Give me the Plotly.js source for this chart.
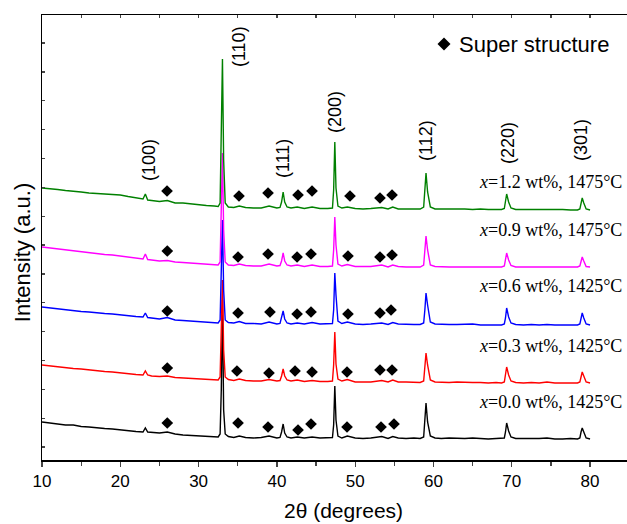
<!DOCTYPE html>
<html>
<head>
<meta charset="utf-8">
<script src="https://cdn.plot.ly/plotly-3.0.1.min.js"></script>
<style>body{margin:0;background:#fff}</style>
</head>
<body>
<div id="chart" style="width:627px;height:524px"></div>
<script>
// 2θ grid (degrees)
const twoTheta = [10,11,12,13,14,15,16,17,18,19,20,21,22,
  22.9,23.2,23.5,
  24,25,26,27,28,29,30,31,32,32.5,
  32.75,32.9,33.05,33.2,33.4,
  33.8,34.5,35.2,36,37,38,39,40,40.4,
  40.6,40.8,41,41.3,
  41.8,42.6,43.5,44.5,45.5,46.5,47.1,
  47.25,47.4,47.55,47.8,
  48.3,49,50,51,52,53.4,54.2,54.8,55.5,56.5,57.5,58.3,58.75,
  58.9,59.05,59.25,59.6,
  60.2,61,62,63,64,65,66,67,68,68.7,69.05,
  69.2,69.35,69.6,69.9,
  70.5,71.5,72.5,73.5,74.5,75.5,76.5,77.5,78.4,78.7,
  78.85,79.0,79.2,79.5,80];

// Intensities (a.u., stacked)
const int00 = [38,37,36.5,35,35,33.5,33,32,31.5,31,30,29.5,28.5,
  28,32,28,
  27.5,27,28,26,25,24.5,24,23.5,23,23,
  26,70,160,50,26,
  23.5,22.5,24,22.5,22,22.5,24,22,22.5,
  28,36,27,23,
  22,23,22,23,22,22,22.5,
  35,74,40,24,
  22,24,22,21.5,22,23.5,21.5,23.5,22,21.5,22,21.5,23,
  40,57,38,24,
  22,21.5,22,21.5,21.5,22,21.5,21,21.5,21.5,22,
  28,37,29,23,
  21.5,21.5,21,21.5,22,21,21,21.5,21,22,
  28,32,28,22,21];
const int03 = [95,94,93.5,92,91.5,91,90,89.5,88.5,88,87,86.5,85.5,
  85,89,85,
  84,83.5,84,82.5,82,81.5,81,80.5,80,80,
  83,125,180,110,83,
  80.5,79.5,81,79.5,79,79,80.5,79,79.5,
  84,91,84,80,
  79,80,78.5,79.5,78.5,78.5,79,
  95,128,96,81,
  79,80.5,78,78,78,79.5,78,80,78,78,78,77.5,79,
  95,107,95,80,
  78,77.5,77.5,78,77.5,77.5,77.5,77,77.5,77,78,
  84,93,85,79,
  77.5,77,77.5,77,78,77,77,77,77,78,
  83,88,84,78,77];
const int06 = [153,152,151,150,149.5,148.5,148,147,146.5,146,145,144,143.5,
  143,147,142.5,
  142,141,142.5,140,139.5,139,138,138,137.5,137,
  140,190,240,170,140,
  137.5,137,138.5,136.5,136.5,136,138,136,136.5,
  142,149,141,137,
  136,137,136,137.5,136,136,136.5,
  150,187,165,139,
  136.5,138,136,135.5,136,137,135.5,137.5,136,135.5,135.5,135.5,137,
  150,167,155,138,
  136,135.5,135.5,135.5,135.5,136,135,135,135.5,135,136,
  142,152,143,137,
  135.5,135,135.5,135,135.5,135,135,135,135,136,
  141,147,142,136,135];
const int09 = [213,212,211,210,209,208,207,206,205.5,205,204,203,202,
  201,206,200.5,
  200,199,199.5,198,197.5,197,196.5,196,195.5,195,
  198,250,307,230,198,
  195,194.5,196,194.5,194,194,196,194,194.5,
  199,207,199,195,
  194,195,193.5,195,193.5,193.5,194,
  210,243,215,196,
  194,195.5,193.5,193.5,193.5,195,193,195,193.5,193,193,193,195,
  210,224,210,195,
  193.5,193,193,193,193,193.5,193,193,193,193,194,
  199,207,200,194.5,
  193,193,193,193,193.5,193,193,193,193,194,
  198,203,199,193.5,193];
const int12 = [272,271.5,270.5,269.5,269,268,267,266.5,266,265.5,265,263.5,262,
  261,266,260,
  259.5,258.5,259.5,257,257,256,255,254.5,254,253.5,
  257,320,401,300,257,
  253,252.5,254,252.5,252,252,254,252,252.5,
  258,268,258,253,
  252,253,251.5,253,251.5,251.5,252,
  270,318,272,254,
  252,253,251.5,251,251.5,252.5,251,253,251,251,251,251,253,
  270,287,268,253,
  251,251,251,251.5,251,250.5,251,250.5,250.5,250.5,251.5,
  257,266,258,252,
  250.5,250.5,250.5,251,250.5,250.5,250.5,250,250,251,
  256,262,257,251,250];

// Super-structure markers (2θ, stacked intensity)
const ssX00 = [26.0,35.04,38.87,42.70,44.36,48.96,53.3,54.96];
const ssY00 = [37,37,33,30,36,33,33,36];
const ssX03 = [26.0,34.9,38.99,42.32,44.49,48.96,53.17,54.71];
const ssY03 = [92,89,87,89,88,88,90,90];
const ssX06 = [26.0,35.04,39.12,42.58,44.36,49.08,53.17,54.58];
const ssY06 = [149,147,148,146,148,146,147,150];
const ssX09 = [26.0,35.04,38.87,42.58,44.36,49.08,53.17,54.71];
const ssY09 = [209,203,206,203,206,204,203,205];
const ssX12 = [25.97,35.16,38.87,42.70,44.49,49.34,53.17,54.71];
const ssY12 = [269,264,267,265,269,264,262,265];

// Peak labels
const peakLabels = ['(100)','(110)','(111)','(200)','(112)','(220)','(301)'];
const peakLabelX = [23.67,35.17,40.78,47.42,59.05,69.52,78.85];
const peakLabelY = [300,413,302,348,319,317,320];

// Sample labels
const sampleLabels = ['<i>x</i>=0.0 wt%, 1425°C','<i>x</i>=0.3 wt%, 1425°C','<i>x</i>=0.6 wt%, 1425°C','<i>x</i>=0.9 wt%, 1475°C','<i>x</i>=1.2 wt%, 1475°C'];
const sampleLabelY = [58,114,174,230,278];

// Legend marker
const legendX = [61.35];
const legendY = [416];

const colors = ['#000000','#ff0000','#0000ff','#ff00ff','#008000'];
const series = [int00,int03,int06,int09,int12];

const traces = [];
series.forEach((s,i)=>{
  traces.push({x: twoTheta, y: s, mode:'lines', line:{color: colors[i], width:1.4}, hoverinfo:'skip'});
});
const ssXs = [ssX00,ssX03,ssX06,ssX09,ssX12].flat();
const ssYs = [ssY00,ssY03,ssY06,ssY09,ssY12].flat();
traces.push({x: ssXs, y: ssYs, mode:'markers', marker:{symbol:'diamond', size:9, color:'#000'}, hoverinfo:'skip'});
traces.push({x: legendX, y: legendY, mode:'markers', marker:{symbol:'diamond', size:10, color:'#000'}, hoverinfo:'skip'});
traces.push({x:[10], y:[0], xaxis:'x2', mode:'markers', marker:{opacity:0}, hoverinfo:'skip'});

const FONT = 'Liberation Sans, Arial, sans-serif';
const annotations = [];
peakLabels.forEach((t,i)=>{
  annotations.push({x: peakLabelX[i], y: peakLabelY[i], xref:'x', yref:'y', text:t, showarrow:false, textangle:-90,
    xanchor:'center', yanchor:'middle', font:{family:FONT, size:18, color:'#000'}});
});
sampleLabels.forEach((t,i)=>{
  annotations.push({x: 84.3, y: sampleLabelY[i], xref:'x', yref:'y', text:t, showarrow:false,
    xanchor:'right', yanchor:'middle', font:{family:'Liberation Serif, Times New Roman, serif', size:18, color:'#000'}});
});
annotations.push({x: 63.0, y: 416, xref:'x', yref:'y', text:'Super structure', showarrow:false,
  xanchor:'left', yanchor:'middle', font:{family:FONT, size:22, color:'#000'}});
annotations.push({x: 48.57, y: -0.113, xref:'x', yref:'paper', text:'2θ (degrees)', showarrow:false,
  xanchor:'center', yanchor:'middle', font:{family:FONT, size:21, color:'#000'}});
annotations.push({x: -0.0342, y: 0.467, xref:'paper', yref:'paper', text:'Intensity (a.u.)', showarrow:false, textangle:-90,
  xanchor:'center', yanchor:'middle', font:{family:FONT, size:22, color:'#000'}});

const layout = {
  width: 627, height: 524,
  margin: {l:42, r:0, t:15, b:64},
  paper_bgcolor:'#fff', plot_bgcolor:'#fff',
  showlegend:false,
  font:{family:FONT, color:'#000'},
  xaxis: {range:[10,84.72], tickmode:'linear', tick0:10, dtick:10, ticks:'outside', ticklen:5, tickwidth:1.3,
    minor:{tickmode:'linear', tick0:15, dtick:10, ticks:'outside', ticklen:4, tickwidth:1.3},
    showline:true, linewidth:1.5, linecolor:'#000', showgrid:false, zeroline:false,
    tickfont:{family:FONT, size:17, color:'#000'}, fixedrange:true},
  xaxis2: {range:[10,84.72], overlaying:'x', side:'top', anchor:'y', tickmode:'linear', tick0:10, dtick:5,
    ticks:'inside', ticklen:3, tickwidth:1.3, showticklabels:false, showline:true, linewidth:1.5, linecolor:'#000',
    showgrid:false, zeroline:false, fixedrange:true},
  yaxis: {range:[0,445], tickmode:'linear', tick0:13, dtick:28.85, ticks:'inside', ticklen:3, tickwidth:1.3,
    showticklabels:false, showline:true, linewidth:1.5, linecolor:'#000', showgrid:false, zeroline:false, fixedrange:true},
  annotations: annotations
};

Plotly.newPlot('chart', traces, layout, {displayModeBar:false, staticPlot:true});
</script>
</body>
</html>
